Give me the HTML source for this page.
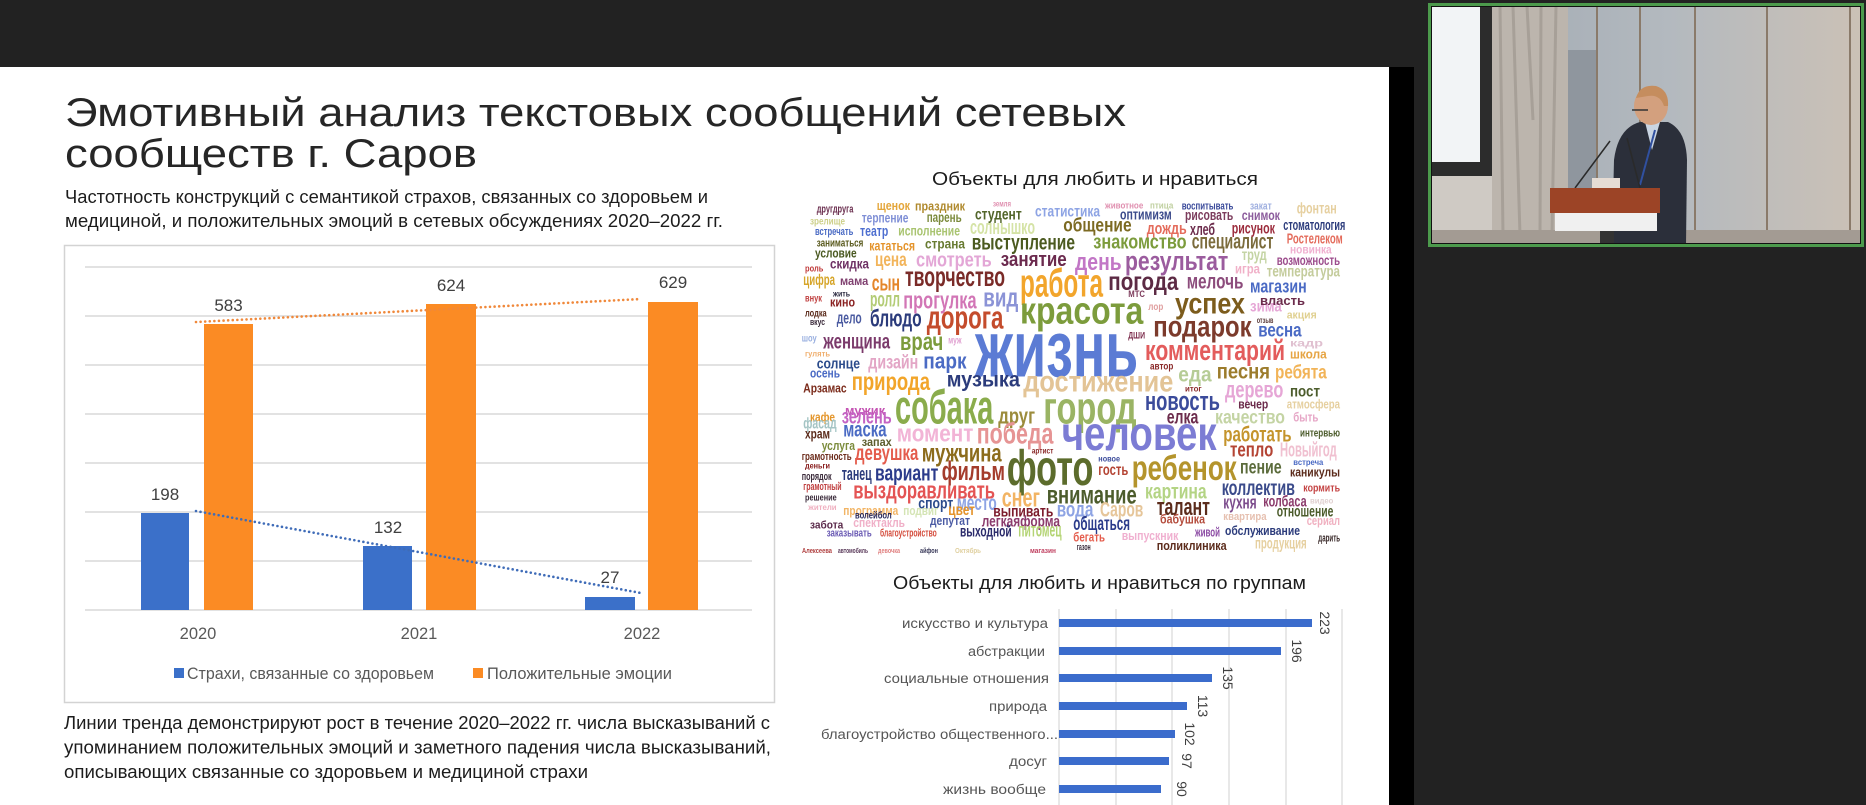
<!DOCTYPE html>
<html><head><meta charset="utf-8">
<style>
html,body{margin:0;padding:0;background:#222;}
body{width:1866px;height:805px;overflow:hidden;}
svg{display:block;}
</style></head>
<body>
<svg width="1866" height="805" viewBox="0 0 1866 805" xmlns="http://www.w3.org/2000/svg">
<defs>
<clipPath id="cam"><rect x="1431" y="6" width="431" height="239"/></clipPath>
<linearGradient id="wall" x1="0" y1="0" x2="1" y2="0">
<stop offset="0" stop-color="#9ea7b0"/><stop offset="0.55" stop-color="#b3b9bf"/><stop offset="1" stop-color="#cbc1b6"/>
</linearGradient>
</defs>
<!-- backgrounds -->
<rect x="0" y="0" width="1866" height="805" fill="#222"/>
<rect x="0" y="67" width="1389" height="738" fill="#fff"/>
<rect x="1389" y="67" width="25" height="738" fill="#000"/>

<!-- title -->
<g font-family="'Liberation Sans','Noto Sans CJK SC',sans-serif" lengthAdjust="spacingAndGlyphs">
<text x="65" y="126" font-size="40" fill="#262626" textLength="1061" lengthAdjust="spacingAndGlyphs">Эмотивный анализ текстовых сообщений сетевых</text>
<text x="65" y="167" font-size="40" fill="#262626" textLength="412" lengthAdjust="spacingAndGlyphs">сообществ г. Саров</text>
<text x="65" y="203" font-size="18.5" fill="#1c1c1c" textLength="643" lengthAdjust="spacingAndGlyphs">Частотность конструкций с семантикой страхов, связанных со здоровьем и</text>
<text x="65" y="227" font-size="18.5" fill="#1c1c1c" textLength="658" lengthAdjust="spacingAndGlyphs">медициной, и положительных эмоций в сетевых обсуждениях 2020–2022 гг.</text>
</g>

<!-- left chart -->
<rect x="64.5" y="245.5" width="710" height="457" fill="#fff" stroke="#d3d3d3" stroke-width="1.5"/>
<g stroke="#d9d9d9" stroke-width="1.5">
<line x1="85" y1="267" x2="752" y2="267"/>
<line x1="85" y1="316" x2="752" y2="316"/>
<line x1="85" y1="365" x2="752" y2="365"/>
<line x1="85" y1="414" x2="752" y2="414"/>
<line x1="85" y1="463" x2="752" y2="463"/>
<line x1="85" y1="512" x2="752" y2="512"/>
<line x1="85" y1="561" x2="752" y2="561"/>
<line x1="85" y1="610" x2="752" y2="610"/>
</g>
<g fill="#3b70c9">
<rect x="141" y="513" width="48" height="97"/>
<rect x="363" y="546" width="49" height="64"/>
<rect x="585" y="597" width="50" height="13"/>
</g>
<g fill="#fb8b24">
<rect x="204" y="324" width="49" height="286"/>
<rect x="426" y="304" width="50" height="306"/>
<rect x="648" y="302" width="50" height="308"/>
</g>
<line x1="196" y1="322" x2="641" y2="299" stroke="#f0883a" stroke-width="2.6" stroke-linecap="round" stroke-dasharray="0 4.6"/>
<line x1="196" y1="511" x2="641" y2="593" stroke="#3f6cb8" stroke-width="2.6" stroke-linecap="round" stroke-dasharray="0 4.6"/>
<g font-family="'Liberation Sans',sans-serif" font-size="17" fill="#404040" text-anchor="middle">
<text x="165" y="500">198</text>
<text x="228.5" y="311">583</text>
<text x="388" y="533">132</text>
<text x="451" y="291">624</text>
<text x="610" y="583">27</text>
<text x="673" y="288">629</text>
</g>
<g font-family="'Liberation Sans',sans-serif" font-size="16.5" fill="#595959" text-anchor="middle">
<text x="198" y="639">2020</text>
<text x="419" y="639">2021</text>
<text x="642" y="639">2022</text>
</g>
<rect x="174" y="668" width="10" height="10" fill="#3b70c9"/>
<rect x="473" y="668" width="10" height="10" fill="#fb8b24"/>
<g font-family="'Liberation Sans',sans-serif" font-size="16.5" fill="#595959">
<text x="187" y="679" textLength="247" lengthAdjust="spacingAndGlyphs">Страхи, связанные со здоровьем</text>
<text x="487" y="679" textLength="185" lengthAdjust="spacingAndGlyphs">Положительные эмоции</text>
</g>

<!-- bottom text -->
<g font-family="'Liberation Sans',sans-serif" font-size="18.5" fill="#1c1c1c">
<text x="64" y="729" textLength="706" lengthAdjust="spacingAndGlyphs">Линии тренда демонстрируют рост в течение 2020–2022 гг. числа высказываний с</text>
<text x="64" y="753.5" textLength="707" lengthAdjust="spacingAndGlyphs">упоминанием положительных эмоций и заметного падения числа высказываний,</text>
<text x="64" y="778" textLength="524" lengthAdjust="spacingAndGlyphs">описывающих связанные со здоровьем и медициной страхи</text>
</g>

<!-- word cloud title -->
<text x="932" y="185" font-family="'Liberation Sans',sans-serif" font-size="18" fill="#1c1c1c" textLength="326" lengthAdjust="spacingAndGlyphs">Объекты для любить и нравиться</text>

<!-- word cloud -->
<g font-family="'Liberation Sans Narrow','Liberation Sans',sans-serif" font-weight="bold">
<text x="816.7" y="212.3" font-size="11" fill="#6b2f4f" textLength="36.7" lengthAdjust="spacingAndGlyphs">другдруга</text>
<text x="876.7" y="210" font-size="13" fill="#e4a63a" textLength="33.3" lengthAdjust="spacingAndGlyphs">щенок</text>
<text x="915" y="210.7" font-size="13" fill="#b08a2e" textLength="50" lengthAdjust="spacingAndGlyphs">праздник</text>
<text x="993" y="206.7" font-size="8" fill="#e090b0" textLength="18" lengthAdjust="spacingAndGlyphs">земля</text>
<text x="810" y="224.3" font-size="10" fill="#cdd08a" textLength="35" lengthAdjust="spacingAndGlyphs">зрелище</text>
<text x="861.7" y="222.7" font-size="14" fill="#7f8fd6" textLength="46.7" lengthAdjust="spacingAndGlyphs">терпение</text>
<text x="926.7" y="222" font-size="14" fill="#7b8a3b" textLength="35" lengthAdjust="spacingAndGlyphs">парень</text>
<text x="975" y="219.3" font-size="16" fill="#52652a" textLength="46.7" lengthAdjust="spacingAndGlyphs">студент</text>
<text x="1035" y="216.7" font-size="16" fill="#8ea4e4" textLength="65" lengthAdjust="spacingAndGlyphs">статистика</text>
<text x="815" y="235" font-size="11" fill="#4b6bc4" textLength="38.3" lengthAdjust="spacingAndGlyphs">встречать</text>
<text x="860" y="236" font-size="15" fill="#4e6fd0" textLength="28.3" lengthAdjust="spacingAndGlyphs">театр</text>
<text x="898.3" y="235.3" font-size="14" fill="#a9c470" textLength="61.7" lengthAdjust="spacingAndGlyphs">исполнение</text>
<text x="970" y="234" font-size="20" fill="#d5e3a6" textLength="65" lengthAdjust="spacingAndGlyphs">солнышко</text>
<text x="1063.3" y="231.7" font-size="19" fill="#7c6a22" textLength="68.3" lengthAdjust="spacingAndGlyphs">общение</text>
<text x="816.7" y="246.7" font-size="11" fill="#5a5a1e" textLength="46.7" lengthAdjust="spacingAndGlyphs">заниматься</text>
<text x="869.3" y="250.7" font-size="14" fill="#e4932a" textLength="45.7" lengthAdjust="spacingAndGlyphs">кататься</text>
<text x="925" y="248.3" font-size="14" fill="#687b31" textLength="40" lengthAdjust="spacingAndGlyphs">страна</text>
<text x="971.7" y="249.3" font-size="21" fill="#4b5a1f" textLength="103.3" lengthAdjust="spacingAndGlyphs">выступление</text>
<text x="815" y="257.3" font-size="13" fill="#4b5a22" textLength="41.7" lengthAdjust="spacingAndGlyphs">условие</text>
<text x="805" y="271.7" font-size="9" fill="#c03a3a" textLength="18.3" lengthAdjust="spacingAndGlyphs">роль</text>
<text x="830" y="268.3" font-size="14" fill="#6d2f63" textLength="39" lengthAdjust="spacingAndGlyphs">скидка</text>
<text x="875" y="266" font-size="19" fill="#f2b45a" textLength="31.7" lengthAdjust="spacingAndGlyphs">цена</text>
<text x="916" y="266.7" font-size="20" fill="#e3a6d6" textLength="75.7" lengthAdjust="spacingAndGlyphs">смотреть</text>
<text x="1000.7" y="266" font-size="20" fill="#6b2a4e" textLength="66" lengthAdjust="spacingAndGlyphs">занятие</text>
<text x="1075" y="270" font-size="24" fill="#c276c6" textLength="46.7" lengthAdjust="spacingAndGlyphs">день</text>
<text x="1125" y="270" font-size="27" fill="#9b5c9e" textLength="103.3" lengthAdjust="spacingAndGlyphs">результат</text>
<text x="803.3" y="285" font-size="16" fill="#d6a529" textLength="31.7" lengthAdjust="spacingAndGlyphs">цифра</text>
<text x="840" y="285" font-size="12" fill="#7f3f6f" textLength="28.3" lengthAdjust="spacingAndGlyphs">мама</text>
<text x="871.7" y="290.7" font-size="22" fill="#e4862a" textLength="28.3" lengthAdjust="spacingAndGlyphs">сын</text>
<text x="905" y="286" font-size="28" fill="#7a2b28" textLength="100" lengthAdjust="spacingAndGlyphs">творчество</text>
<text x="1020" y="296.7" font-size="40" fill="#f2a52c" textLength="83" lengthAdjust="spacingAndGlyphs">работа</text>
<text x="833" y="296.7" font-size="8" fill="#2a2a40" textLength="17" lengthAdjust="spacingAndGlyphs">жить</text>
<text x="805" y="301.7" font-size="10" fill="#c04040" textLength="17" lengthAdjust="spacingAndGlyphs">внук</text>
<text x="830" y="306.7" font-size="13" fill="#8a2222" textLength="25" lengthAdjust="spacingAndGlyphs">кино</text>
<text x="870" y="306.7" font-size="21" fill="#b3cc75" textLength="30" lengthAdjust="spacingAndGlyphs">ролл</text>
<text x="903.3" y="308.3" font-size="24" fill="#d276b6" textLength="73.3" lengthAdjust="spacingAndGlyphs">прогулка</text>
<text x="983.3" y="306.7" font-size="27" fill="#8b93d6" textLength="35" lengthAdjust="spacingAndGlyphs">вид</text>
<text x="1020" y="323.3" font-size="38" fill="#7c9c3c" textLength="123.3" lengthAdjust="spacingAndGlyphs">красота</text>
<text x="1108.3" y="290" font-size="25" fill="#5c2a44" textLength="70" lengthAdjust="spacingAndGlyphs">погода</text>
<text x="1186.7" y="288.3" font-size="21" fill="#8c4c7c" textLength="56.7" lengthAdjust="spacingAndGlyphs">мелочь</text>
<text x="1128.3" y="297" font-size="9" fill="#7c3a5a" textLength="16.7" lengthAdjust="spacingAndGlyphs">МТС</text>
<text x="1175" y="313.3" font-size="30" fill="#7c5c1c" textLength="70" lengthAdjust="spacingAndGlyphs">успех</text>
<text x="1250" y="292.7" font-size="18" fill="#4a6ac4" textLength="56.7" lengthAdjust="spacingAndGlyphs">магазин</text>
<text x="805" y="316.7" font-size="10" fill="#5a2a1a" textLength="21.7" lengthAdjust="spacingAndGlyphs">лодка</text>
<text x="810" y="325" font-size="9" fill="#3a2a3a" textLength="15" lengthAdjust="spacingAndGlyphs">вкус</text>
<text x="836.7" y="323.3" font-size="17" fill="#4a5aa0" textLength="25" lengthAdjust="spacingAndGlyphs">дело</text>
<text x="870" y="326.7" font-size="24" fill="#2b3b7b" textLength="51.7" lengthAdjust="spacingAndGlyphs">блюдо</text>
<text x="926.7" y="328.3" font-size="32" fill="#c44c2c" textLength="76.7" lengthAdjust="spacingAndGlyphs">дорога</text>
<text x="1153.3" y="336.7" font-size="30" fill="#7c3b2c" textLength="98.3" lengthAdjust="spacingAndGlyphs">подарок</text>
<text x="1250" y="311.7" font-size="16" fill="#e6a6d6" textLength="31.7" lengthAdjust="spacingAndGlyphs">зима</text>
<text x="1260" y="305" font-size="13" fill="#6c2c4c" textLength="45" lengthAdjust="spacingAndGlyphs">власть</text>
<text x="1286.7" y="318.3" font-size="11" fill="#e0d090" textLength="30" lengthAdjust="spacingAndGlyphs">акция</text>
<text x="1258.3" y="336.7" font-size="19" fill="#4a6ac4" textLength="43.3" lengthAdjust="spacingAndGlyphs">весна</text>
<text x="1148.3" y="310" font-size="10" fill="#e0a0a0" textLength="15" lengthAdjust="spacingAndGlyphs">лор</text>
<text x="1256.7" y="323" font-size="8" fill="#5a3a3a" textLength="16.7" lengthAdjust="spacingAndGlyphs">отзыв</text>
<text x="801.7" y="341.7" font-size="10" fill="#9ab0e0" textLength="15" lengthAdjust="spacingAndGlyphs">шоу</text>
<text x="823.3" y="348.3" font-size="21" fill="#7b3a6b" textLength="66.7" lengthAdjust="spacingAndGlyphs">женщина</text>
<text x="900" y="350" font-size="25" fill="#7c9c3c" textLength="43.3" lengthAdjust="spacingAndGlyphs">врач</text>
<text x="948.3" y="343.3" font-size="10" fill="#e0a0d0" textLength="13.3" lengthAdjust="spacingAndGlyphs">муж</text>
<text x="975" y="376.7" font-size="80" fill="#5b7bd4" textLength="163.3" lengthAdjust="spacingAndGlyphs">жизнь</text>
<text x="1145" y="360" font-size="29" fill="#e35c5c" textLength="140" lengthAdjust="spacingAndGlyphs">комментарий</text>
<text x="1290" y="358.3" font-size="13" fill="#e6a443" textLength="36.7" lengthAdjust="spacingAndGlyphs">школа</text>
<text x="1290" y="346.7" font-size="10" fill="#e0c0d0" textLength="33" lengthAdjust="spacingAndGlyphs">кадр</text>
<text x="1128.3" y="338.3" font-size="9" fill="#7c2c4c" textLength="16.7" lengthAdjust="spacingAndGlyphs">ДШИ</text>
<text x="805" y="356.7" font-size="8" fill="#f0b070" textLength="25" lengthAdjust="spacingAndGlyphs">гулять</text>
<text x="816.7" y="368.3" font-size="15" fill="#2b4b8b" textLength="43.3" lengthAdjust="spacingAndGlyphs">солнце</text>
<text x="868.3" y="368.3" font-size="19" fill="#e3a6c6" textLength="50" lengthAdjust="spacingAndGlyphs">дизайн</text>
<text x="923.3" y="368.3" font-size="22" fill="#4b6bc4" textLength="43.3" lengthAdjust="spacingAndGlyphs">парк</text>
<text x="810" y="377.3" font-size="13" fill="#4a6ac4" textLength="30" lengthAdjust="spacingAndGlyphs">осень</text>
<text x="851.7" y="390" font-size="25" fill="#f2a52a" textLength="78.3" lengthAdjust="spacingAndGlyphs">природа</text>
<text x="946.7" y="386.7" font-size="21" fill="#2b3b7b" textLength="73.3" lengthAdjust="spacingAndGlyphs">музыка</text>
<text x="1023.3" y="391.7" font-size="30" fill="#e3c496" textLength="150" lengthAdjust="spacingAndGlyphs">достижение</text>
<text x="1150" y="369.3" font-size="10" fill="#8a2a2a" textLength="23.3" lengthAdjust="spacingAndGlyphs">автор</text>
<text x="1178.3" y="381.7" font-size="21" fill="#b6cc96" textLength="33.3" lengthAdjust="spacingAndGlyphs">еда</text>
<text x="1216.7" y="378.3" font-size="21" fill="#9c7c2c" textLength="53.3" lengthAdjust="spacingAndGlyphs">песня</text>
<text x="1275" y="378.3" font-size="19" fill="#f2b458" textLength="51.7" lengthAdjust="spacingAndGlyphs">ребята</text>
<text x="803.3" y="392.3" font-size="13" fill="#7b2b1b" textLength="43.3" lengthAdjust="spacingAndGlyphs">Арзамас</text>
<text x="895" y="423.3" font-size="48" fill="#8aac4c" textLength="98.3" lengthAdjust="spacingAndGlyphs">собака</text>
<text x="998.3" y="423.3" font-size="22" fill="#9c8c3c" textLength="36.7" lengthAdjust="spacingAndGlyphs">друг</text>
<text x="1043.3" y="423.3" font-size="45" fill="#9ab464" textLength="93.3" lengthAdjust="spacingAndGlyphs">город</text>
<text x="1145" y="410" font-size="27" fill="#3b4b9b" textLength="75" lengthAdjust="spacingAndGlyphs">новость</text>
<text x="1225" y="397.3" font-size="23" fill="#e6a6d6" textLength="58.3" lengthAdjust="spacingAndGlyphs">дерево</text>
<text x="1290" y="396.7" font-size="16" fill="#4c5c2c" textLength="30" lengthAdjust="spacingAndGlyphs">пост</text>
<text x="1286.7" y="408.3" font-size="13" fill="#e6d0a0" textLength="53.3" lengthAdjust="spacingAndGlyphs">атмосфера</text>
<text x="1238.3" y="408.3" font-size="13" fill="#6c2c4c" textLength="30" lengthAdjust="spacingAndGlyphs">вечер</text>
<text x="1185" y="391.7" font-size="8" fill="#8a2a2a" textLength="16.7" lengthAdjust="spacingAndGlyphs">итог</text>
<text x="845" y="415" font-size="13" fill="#c454b4" textLength="40" lengthAdjust="spacingAndGlyphs">мужик</text>
<text x="810" y="421.7" font-size="13" fill="#e4962c" textLength="25" lengthAdjust="spacingAndGlyphs">кафе</text>
<text x="1166.7" y="423.3" font-size="19" fill="#6c2c4c" textLength="31.7" lengthAdjust="spacingAndGlyphs">елка</text>
<text x="1215" y="423.3" font-size="19" fill="#c4d4a4" textLength="70" lengthAdjust="spacingAndGlyphs">качество</text>
<text x="1293.3" y="421.7" font-size="13" fill="#e6a6c6" textLength="25" lengthAdjust="spacingAndGlyphs">быть</text>
<text x="841.7" y="423.3" font-size="21" fill="#c464c4" textLength="50" lengthAdjust="spacingAndGlyphs">зелень</text>
<text x="803.3" y="428.3" font-size="16" fill="#a4c4c4" textLength="33.3" lengthAdjust="spacingAndGlyphs">фасад</text>
<text x="805" y="438.3" font-size="14" fill="#5c2c1c" textLength="25" lengthAdjust="spacingAndGlyphs">храм</text>
<text x="843.3" y="436.7" font-size="21" fill="#4b6bc4" textLength="43.3" lengthAdjust="spacingAndGlyphs">маска</text>
<text x="896.7" y="441.7" font-size="24" fill="#f2b4d6" textLength="76.7" lengthAdjust="spacingAndGlyphs">момент</text>
<text x="976.7" y="443.3" font-size="30" fill="#e69494" textLength="76.7" lengthAdjust="spacingAndGlyphs">победа</text>
<text x="1061.7" y="450" font-size="48" fill="#7c7cd4" textLength="155" lengthAdjust="spacingAndGlyphs">человек</text>
<text x="1223.3" y="441.7" font-size="21" fill="#c4942c" textLength="68.3" lengthAdjust="spacingAndGlyphs">работать</text>
<text x="1300" y="436.7" font-size="11" fill="#4c5c2c" textLength="40" lengthAdjust="spacingAndGlyphs">интервью</text>
<text x="1230" y="456.7" font-size="20" fill="#b44434" textLength="43.3" lengthAdjust="spacingAndGlyphs">тепло</text>
<text x="1280" y="456.7" font-size="20" fill="#f0c0d0" textLength="56.7" lengthAdjust="spacingAndGlyphs">Новыйгод</text>
<text x="861.7" y="446" font-size="12" fill="#5c5c2c" textLength="30" lengthAdjust="spacingAndGlyphs">запах</text>
<text x="821.7" y="450" font-size="13" fill="#7c8c3c" textLength="33.3" lengthAdjust="spacingAndGlyphs">услуга</text>
<text x="801.7" y="460" font-size="11" fill="#6c2c1c" textLength="50" lengthAdjust="spacingAndGlyphs">грамотность</text>
<text x="855" y="460" font-size="21" fill="#e45c4c" textLength="63.3" lengthAdjust="spacingAndGlyphs">девушка</text>
<text x="921.7" y="461.7" font-size="25" fill="#8c6c1c" textLength="80" lengthAdjust="spacingAndGlyphs">мужчина</text>
<text x="1031.7" y="453.3" font-size="8" fill="#8a2a2a" textLength="21.7" lengthAdjust="spacingAndGlyphs">артист</text>
<text x="1006.7" y="485" font-size="50" fill="#5c6c2c" textLength="86.7" lengthAdjust="spacingAndGlyphs">фото</text>
<text x="1098.3" y="475" font-size="16" fill="#b44434" textLength="30" lengthAdjust="spacingAndGlyphs">гость</text>
<text x="1098.3" y="461.7" font-size="8" fill="#3b4b9b" textLength="21.7" lengthAdjust="spacingAndGlyphs">новое</text>
<text x="1131.7" y="480" font-size="35" fill="#b4942c" textLength="105" lengthAdjust="spacingAndGlyphs">ребенок</text>
<text x="1240" y="473.3" font-size="19" fill="#5c6c3c" textLength="41.7" lengthAdjust="spacingAndGlyphs">пение</text>
<text x="1293.3" y="465" font-size="8" fill="#4a6ac4" textLength="30" lengthAdjust="spacingAndGlyphs">встреча</text>
<text x="1290" y="476.7" font-size="13" fill="#5c2c1c" textLength="50" lengthAdjust="spacingAndGlyphs">каникулы</text>
<text x="805" y="468.3" font-size="8" fill="#8a2020" textLength="25" lengthAdjust="spacingAndGlyphs">деньги</text>
<text x="801.7" y="480" font-size="11" fill="#3a2a3a" textLength="30" lengthAdjust="spacingAndGlyphs">порядок</text>
<text x="841.7" y="480" font-size="18" fill="#2b3b7b" textLength="30" lengthAdjust="spacingAndGlyphs">танец</text>
<text x="875" y="480.7" font-size="22" fill="#2b3b8b" textLength="63.3" lengthAdjust="spacingAndGlyphs">вариант</text>
<text x="941.7" y="480" font-size="27" fill="#a43c2c" textLength="63.3" lengthAdjust="spacingAndGlyphs">фильм</text>
<text x="803.3" y="490" font-size="11" fill="#c04040" textLength="38.3" lengthAdjust="spacingAndGlyphs">грамотный</text>
<text x="853.3" y="498.3" font-size="24" fill="#e45454" textLength="141.7" lengthAdjust="spacingAndGlyphs">выздоравливать</text>
<text x="1001.7" y="506.7" font-size="27" fill="#f2b464" textLength="38.3" lengthAdjust="spacingAndGlyphs">снег</text>
<text x="1046.7" y="503.3" font-size="26" fill="#4c5c2c" textLength="90" lengthAdjust="spacingAndGlyphs">внимание</text>
<text x="1145" y="498.3" font-size="21" fill="#b4d484" textLength="61.7" lengthAdjust="spacingAndGlyphs">картина</text>
<text x="1221.7" y="495" font-size="21" fill="#3b4b8b" textLength="73.3" lengthAdjust="spacingAndGlyphs">коллектив</text>
<text x="1303.3" y="491.7" font-size="11" fill="#c44444" textLength="36.7" lengthAdjust="spacingAndGlyphs">кормить</text>
<text x="1223.3" y="508.3" font-size="18" fill="#7c4c8c" textLength="33.3" lengthAdjust="spacingAndGlyphs">кухня</text>
<text x="1263.3" y="506.7" font-size="16" fill="#8c3c6c" textLength="43.3" lengthAdjust="spacingAndGlyphs">колбаса</text>
<text x="1310" y="503.3" font-size="8" fill="#e0d0d0" textLength="23.3" lengthAdjust="spacingAndGlyphs">видео</text>
<text x="1156.7" y="515" font-size="24" fill="#5c2c1c" textLength="53.3" lengthAdjust="spacingAndGlyphs">талант</text>
<text x="1056.7" y="516.7" font-size="21" fill="#8ea4e4" textLength="36.7" lengthAdjust="spacingAndGlyphs">вода</text>
<text x="1100" y="516.7" font-size="21" fill="#e6c69a" textLength="43.3" lengthAdjust="spacingAndGlyphs">Саров</text>
<text x="1276.7" y="516.7" font-size="16" fill="#4c5c2c" textLength="56.7" lengthAdjust="spacingAndGlyphs">отношение</text>
<text x="1160" y="523.3" font-size="13" fill="#b44c3c" textLength="45" lengthAdjust="spacingAndGlyphs">бабушка</text>
<text x="1223.3" y="520" font-size="11" fill="#e6c0b0" textLength="43.3" lengthAdjust="spacingAndGlyphs">квартира</text>
<text x="1306.7" y="525" font-size="13" fill="#f0b0c0" textLength="33.3" lengthAdjust="spacingAndGlyphs">сериал</text>
<text x="805" y="500.7" font-size="9" fill="#3a2a3a" textLength="31.7" lengthAdjust="spacingAndGlyphs">решение</text>
<text x="808.3" y="510" font-size="8" fill="#f0b0c0" textLength="28.3" lengthAdjust="spacingAndGlyphs">жители</text>
<text x="918.3" y="508.3" font-size="16" fill="#2b4b8b" textLength="35" lengthAdjust="spacingAndGlyphs">спорт</text>
<text x="956.7" y="510" font-size="21" fill="#8ea4e4" textLength="40" lengthAdjust="spacingAndGlyphs">место</text>
<text x="843.3" y="515" font-size="13" fill="#f2b464" textLength="55" lengthAdjust="spacingAndGlyphs">программа</text>
<text x="903.3" y="515" font-size="13" fill="#d4e4b4" textLength="35" lengthAdjust="spacingAndGlyphs">подвиг</text>
<text x="948.3" y="515" font-size="16" fill="#e4942c" textLength="26.7" lengthAdjust="spacingAndGlyphs">цвет</text>
<text x="993.3" y="516.7" font-size="16" fill="#7c1c2c" textLength="60" lengthAdjust="spacingAndGlyphs">выпивать</text>
<text x="855" y="518.3" font-size="10" fill="#2b2b5b" textLength="36.7" lengthAdjust="spacingAndGlyphs">волейбол</text>
<text x="853.3" y="527" font-size="13" fill="#f0b0c8" textLength="51.7" lengthAdjust="spacingAndGlyphs">спектакль</text>
<text x="930" y="525" font-size="13" fill="#4b5ba4" textLength="40" lengthAdjust="spacingAndGlyphs">депутат</text>
<text x="981.7" y="526.7" font-size="16" fill="#8c3c6c" textLength="78.3" lengthAdjust="spacingAndGlyphs">легкаяформа</text>
<text x="810" y="528.3" font-size="11" fill="#5c2c4c" textLength="33.3" lengthAdjust="spacingAndGlyphs">забота</text>
<text x="826.7" y="536.7" font-size="11" fill="#6b5bb4" textLength="45" lengthAdjust="spacingAndGlyphs">заказывать</text>
<text x="880" y="536.7" font-size="11" fill="#d44c3c" textLength="56.7" lengthAdjust="spacingAndGlyphs">благоустройство</text>
<text x="960" y="536.7" font-size="16" fill="#2b2b6b" textLength="51.7" lengthAdjust="spacingAndGlyphs">выходной</text>
<text x="1018.3" y="536.7" font-size="19" fill="#b4d474" textLength="43.3" lengthAdjust="spacingAndGlyphs">питомец</text>
<text x="1073.3" y="530" font-size="19" fill="#2b3b8b" textLength="56.7" lengthAdjust="spacingAndGlyphs">общаться</text>
<text x="1121.7" y="540" font-size="13" fill="#f0b0d0" textLength="56.7" lengthAdjust="spacingAndGlyphs">выпускник</text>
<text x="1195" y="536.7" font-size="13" fill="#8c4ca4" textLength="25" lengthAdjust="spacingAndGlyphs">живой</text>
<text x="1225" y="535" font-size="13" fill="#2b3b7b" textLength="75" lengthAdjust="spacingAndGlyphs">обслуживание</text>
<text x="1073.3" y="541.7" font-size="13" fill="#e45c4c" textLength="31.7" lengthAdjust="spacingAndGlyphs">бегать</text>
<text x="1076.7" y="550" font-size="9" fill="#3a2a3a" textLength="14" lengthAdjust="spacingAndGlyphs">газон</text>
<text x="1156.7" y="550" font-size="13" fill="#5c2c1c" textLength="70" lengthAdjust="spacingAndGlyphs">поликлиника</text>
<text x="1255" y="548.3" font-size="16" fill="#e6d0a0" textLength="51.7" lengthAdjust="spacingAndGlyphs">продукция</text>
<text x="1318.3" y="541.7" font-size="11" fill="#3a2a2a" textLength="21.7" lengthAdjust="spacingAndGlyphs">дарить</text>
<text x="802" y="553" font-size="7" fill="#b04040" textLength="30" lengthAdjust="spacingAndGlyphs">Алексеева</text>
<text x="838" y="553" font-size="7" fill="#5a3a5a" textLength="30" lengthAdjust="spacingAndGlyphs">автомобиль</text>
<text x="878" y="553" font-size="7" fill="#e08080" textLength="22" lengthAdjust="spacingAndGlyphs">девочка</text>
<text x="920" y="553" font-size="7" fill="#3a3a5a" textLength="18" lengthAdjust="spacingAndGlyphs">айфон</text>
<text x="955" y="553" font-size="7" fill="#e0d0a0" textLength="26" lengthAdjust="spacingAndGlyphs">Октябрь</text>
<text x="1030" y="553" font-size="7" fill="#c04060" textLength="26" lengthAdjust="spacingAndGlyphs">магазин</text>
<text x="1105" y="208.3" font-size="9" fill="#e090b0" textLength="38.3" lengthAdjust="spacingAndGlyphs">животное</text>
<text x="1150" y="208.3" font-size="9" fill="#c0d0a0" textLength="23.3" lengthAdjust="spacingAndGlyphs">птица</text>
<text x="1181.7" y="209.3" font-size="11" fill="#3b4b9b" textLength="51.7" lengthAdjust="spacingAndGlyphs">воспитывать</text>
<text x="1250" y="209.3" font-size="11" fill="#a0b0e0" textLength="21.7" lengthAdjust="spacingAndGlyphs">закат</text>
<text x="1296.7" y="213.3" font-size="16" fill="#e6d0a0" textLength="40" lengthAdjust="spacingAndGlyphs">фонтан</text>
<text x="1120" y="219.3" font-size="15" fill="#3b4b8b" textLength="51.7" lengthAdjust="spacingAndGlyphs">оптимизм</text>
<text x="1185" y="220" font-size="15" fill="#7c3c5c" textLength="48.3" lengthAdjust="spacingAndGlyphs">рисовать</text>
<text x="1241.7" y="220" font-size="14" fill="#8c5c9c" textLength="38.3" lengthAdjust="spacingAndGlyphs">снимок</text>
<text x="1146.7" y="234" font-size="17" fill="#e46c5c" textLength="40" lengthAdjust="spacingAndGlyphs">дождь</text>
<text x="1190" y="235" font-size="17" fill="#6c2c4c" textLength="25" lengthAdjust="spacingAndGlyphs">хлеб</text>
<text x="1231.7" y="233.3" font-size="16" fill="#9c2c3c" textLength="43.3" lengthAdjust="spacingAndGlyphs">рисунок</text>
<text x="1283.3" y="230" font-size="15" fill="#2b3b7b" textLength="62" lengthAdjust="spacingAndGlyphs">стоматология</text>
<text x="1093.3" y="248.3" font-size="20" fill="#7c9c3c" textLength="93.3" lengthAdjust="spacingAndGlyphs">знакомство</text>
<text x="1191.7" y="248.3" font-size="21" fill="#7c6c3c" textLength="81.7" lengthAdjust="spacingAndGlyphs">специалист</text>
<text x="1286.7" y="243.3" font-size="15" fill="#e46c5c" textLength="56" lengthAdjust="spacingAndGlyphs">Ростелеком</text>
<text x="1290" y="253.3" font-size="12" fill="#f0b0d0" textLength="41.7" lengthAdjust="spacingAndGlyphs">новинка</text>
<text x="1241.7" y="260" font-size="16" fill="#c4d4a4" textLength="25" lengthAdjust="spacingAndGlyphs">труд</text>
<text x="1276.7" y="265" font-size="14" fill="#9c4c8c" textLength="63.3" lengthAdjust="spacingAndGlyphs">возможность</text>
<text x="1235" y="273.3" font-size="14" fill="#f0b0c8" textLength="25" lengthAdjust="spacingAndGlyphs">игра</text>
<text x="1266.7" y="276.7" font-size="16" fill="#c4cc9c" textLength="73.3" lengthAdjust="spacingAndGlyphs">температура</text>
</g>

<!-- horizontal bar chart -->
<text x="893" y="589" font-family="'Liberation Sans',sans-serif" font-size="18" fill="#1c1c1c" textLength="413" lengthAdjust="spacingAndGlyphs">Объекты для любить и нравиться по группам</text>
<g stroke="#d9d9d9" stroke-width="1.2">
<line x1="1059" y1="609" x2="1059" y2="805"/>
<line x1="1116" y1="609" x2="1116" y2="805"/>
<line x1="1172" y1="609" x2="1172" y2="805"/>
<line x1="1229" y1="609" x2="1229" y2="805"/>
<line x1="1286" y1="609" x2="1286" y2="805"/>
<line x1="1342" y1="609" x2="1342" y2="805"/>
</g>
<g fill="#3b6ccc">
<rect x="1059" y="619" width="253" height="8"/>
<rect x="1059" y="647" width="222" height="8"/>
<rect x="1059" y="674" width="153" height="8"/>
<rect x="1059" y="702" width="128" height="8"/>
<rect x="1059" y="730" width="116" height="8"/>
<rect x="1059" y="757" width="110" height="8"/>
<rect x="1059" y="785" width="102" height="8"/>
</g>
<g font-family="'Liberation Sans',sans-serif" font-size="13.5" fill="#555">
<text x="902" y="628" textLength="146" lengthAdjust="spacingAndGlyphs">искусство и культура</text>
<text x="968" y="656" textLength="77" lengthAdjust="spacingAndGlyphs">абстракции</text>
<text x="884" y="683" textLength="165" lengthAdjust="spacingAndGlyphs">социальные отношения</text>
<text x="989" y="711" textLength="58" lengthAdjust="spacingAndGlyphs">природа</text>
<text x="821" y="739" textLength="237" lengthAdjust="spacingAndGlyphs">благоустройство общественного...</text>
<text x="1009" y="766" textLength="38" lengthAdjust="spacingAndGlyphs">досуг</text>
<text x="943" y="794" textLength="103" lengthAdjust="spacingAndGlyphs">жизнь вообще</text>
</g>
<g font-family="'Liberation Sans',sans-serif" font-size="14" fill="#404040" text-anchor="middle">
<text transform="translate(1320,623) rotate(90)">223</text>
<text transform="translate(1292,651) rotate(90)">196</text>
<text transform="translate(1223,678) rotate(90)">135</text>
<text transform="translate(1198,706) rotate(90)">113</text>
<text transform="translate(1185,734) rotate(90)">102</text>
<text transform="translate(1182,761) rotate(90)">97</text>
<text transform="translate(1177,789) rotate(90)">90</text>
</g>

<!-- camera feed -->
<g clip-path="url(#cam)">
<rect x="1431" y="6" width="431" height="239" fill="url(#wall)"/>
<rect x="1568" y="50" width="29" height="150" fill="#8f969e"/>
<g stroke="#8a7a6a" stroke-width="2">
<line x1="1597" y1="6" x2="1597" y2="235"/>
<line x1="1640" y1="6" x2="1640" y2="235"/>
<line x1="1695" y1="6" x2="1695" y2="235"/>
<line x1="1767" y1="6" x2="1767" y2="235"/>
<line x1="1850" y1="6" x2="1850" y2="235"/>
</g>
<rect x="1492" y="6" width="76" height="232" fill="#bcb5ad"/>
<g stroke="#a39b93" stroke-width="3" opacity="0.8">
<line x1="1500" y1="6" x2="1503" y2="235"/>
<line x1="1513" y1="6" x2="1520" y2="235"/>
<line x1="1527" y1="6" x2="1533" y2="120"/>
<line x1="1541" y1="6" x2="1540" y2="235"/>
<line x1="1556" y1="6" x2="1552" y2="235"/>
</g>
<rect x="1431" y="6" width="49" height="158" fill="#f2f4f6"/>
<rect x="1480" y="6" width="12" height="171" fill="#2c2c2c"/>
<rect x="1431" y="162" width="61" height="14" fill="#2c2c2c"/>
<rect x="1431" y="176" width="61" height="62" fill="#cfcac4"/>
<rect x="1431" y="230" width="431" height="15" fill="#a39b93"/>
<!-- man -->
<path d="M1612 245 L1614 160 Q1618 128 1640 122 L1668 122 Q1686 130 1687 160 L1686 245 Z" fill="#2b2f3a"/>
<path d="M1645 122 L1660 122 L1652 150 Z" fill="#c9d5e2"/>
<ellipse cx="1651" cy="106" rx="17" ry="19" fill="#d3a07e"/>
<path d="M1636 98 Q1640 84 1656 86 Q1669 90 1668 106 L1664 106 Q1660 94 1648 96 Z" fill="#c58d5e"/>
<line x1="1632" y1="110" x2="1648" y2="110" stroke="#333" stroke-width="1.5"/>
<line x1="1655" y1="130" x2="1640" y2="185" stroke="#3050a0" stroke-width="2"/>
<line x1="1575" y1="188" x2="1610" y2="141" stroke="#2a2a2a" stroke-width="1.5"/>
<line x1="1640" y1="188" x2="1627" y2="138" stroke="#2a2a2a" stroke-width="1.5"/>
<rect x="1592" y="178" width="28" height="10" fill="#e6dcd4"/>
<!-- podium -->
<rect x="1550" y="188" width="110" height="25" fill="#9c4426"/>
<rect x="1555" y="213" width="102" height="18" fill="#f0f0f0"/>
<rect x="1600" y="231" width="14" height="14" fill="#333"/>
</g>
<rect x="1429.5" y="4.5" width="433" height="241" fill="none" stroke="#4c9a4c" stroke-width="3"/>
<rect x="1431.5" y="6.5" width="429" height="237" fill="none" stroke="#111" stroke-width="1"/>
</svg>
</body></html>
